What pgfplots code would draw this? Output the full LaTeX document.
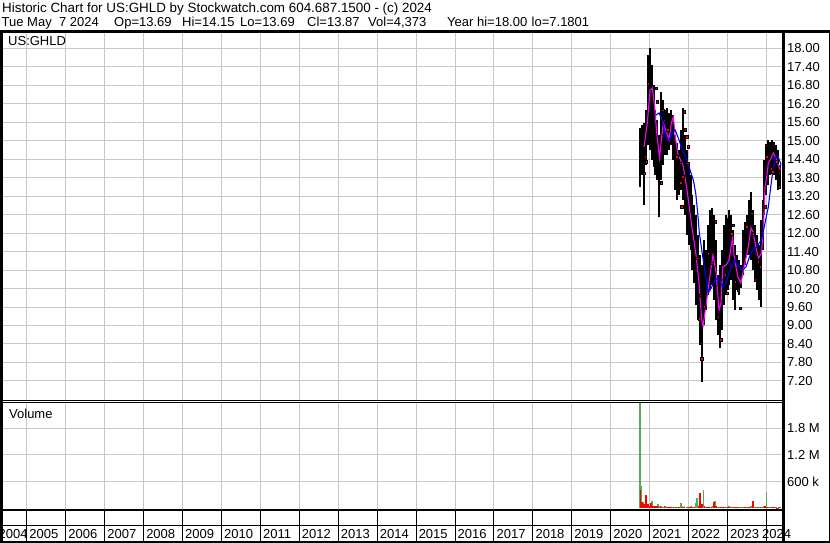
\documentclass[border=0pt]{standalone}
\usepackage{fontspec}
\setmainfont{Liberation Sans}
\usepackage{pgfplots}
\pgfplotsset{compat=1.18}
\usepackage{pgfplotstable}

\definecolor{gridgray}{HTML}{C8C8C8}
\definecolor{vgreen}{HTML}{4CAF50}
\definecolor{vred}{HTML}{FF0000}
\definecolor{mamag}{HTML}{FF00FF}
\definecolor{mablue}{HTML}{0000FF}

% daily range, sampled every 0.05 year
\pgfplotstableread{
t hi lo
2020.75 15.41 13.50
2020.80 15.51 13.89
2020.85 15.57 12.90
2020.90 16.00 14.21
2020.95 17.78 14.86
2021.00 18.00 14.70
2021.05 17.46 14.37
2021.10 16.81 14.15
2021.15 16.00 13.89
2021.20 15.67 13.72
2021.25 15.18 12.52
2021.30 16.58 13.72
2021.35 16.32 14.21
2021.40 16.00 14.54
2021.45 16.06 14.54
2021.50 15.90 14.70
2021.55 16.00 14.86
2021.60 15.83 14.37
2021.65 15.18 13.40
2021.70 14.93 13.07
2021.75 14.70 13.24
2021.80 15.35 13.40
2021.85 16.06 13.07
2021.90 15.18 12.59
2021.95 14.70 11.94
2022.00 14.21 11.61
2022.05 13.89 11.45
2022.10 13.24 10.80
2022.15 12.91 10.38
2022.20 12.59 9.67
2022.25 11.94 9.18
2022.30 11.29 8.37
2022.35 10.96 7.17
2022.40 11.78 9.02
2022.45 11.45 9.50
2022.50 12.26 9.99
2022.55 12.75 10.15
2022.60 12.81 10.32
2022.65 12.59 9.83
2022.70 11.78 9.18
2022.75 10.64 8.69
2022.80 10.96 8.27
2022.85 11.45 8.85
2022.90 12.26 9.67
2022.95 12.59 9.99
2023.00 12.49 10.15
2023.05 12.75 10.32
2023.10 12.59 10.48
2023.15 12.10 9.83
2023.20 11.61 9.50
2023.25 11.29 10.15
2023.30 11.13 9.99
2023.35 10.96 10.22
2023.40 12.10 10.64
2023.45 12.36 10.96
2023.50 12.59 11.29
2023.55 13.08 11.29
2023.60 13.33 11.13
2023.65 12.75 10.80
2023.70 12.26 10.48
2023.75 11.94 10.15
2023.80 11.61 9.83
2023.85 12.43 9.60
2023.90 13.08 11.45
2023.95 14.37 12.59
2024.00 14.86 13.24
2024.05 15.02 13.56
2024.10 14.96 13.89
2024.15 15.02 14.11
2024.20 14.96 13.89
2024.25 14.86 13.72
2024.30 14.70 13.40
2024.35 14.21 13.56
}\pricetab

\pgfplotstableread{
t p
2020.855 14.80
2020.940 15.57
2021.010 16.65
2021.069 16.71
2021.130 16.09
2021.182 15.25
2021.254 14.44
2021.300 15.02
2021.351 15.57
2021.413 15.35
2021.498 15.02
2021.557 15.57
2021.608 15.77
2021.670 15.02
2021.729 14.54
2021.857 14.21
2021.960 13.40
2022.088 12.17
2022.191 11.29
2022.268 10.38
2022.332 9.24
2022.371 8.98
2022.448 9.67
2022.550 10.64
2022.628 11.29
2022.705 10.74
2022.782 9.50
2022.833 9.73
2022.877 10.90
2022.962 10.96
2023.039 11.13
2023.134 11.87
2023.167 11.29
2023.262 10.58
2023.347 10.38
2023.424 10.90
2023.519 11.45
2023.604 12.17
2023.655 12.04
2023.732 11.52
2023.797 11.19
2023.874 11.35
2023.920 12.10
2023.964 13.50
2024.007 13.82
2024.048 14.28
2024.092 14.37
2024.177 14.60
2024.264 14.37
2024.349 14.05
}\mashort

\pgfplotstableread{
t p
2021.156 15.83
2021.241 15.90
2021.325 15.67
2021.413 15.12
2021.454 15.02
2021.523 15.09
2021.582 15.25
2021.652 15.35
2021.736 15.09
2021.824 14.76
2021.952 14.37
2022.037 14.05
2022.122 13.72
2022.183 13.30
2022.235 12.65
2022.276 12.00
2022.338 11.45
2022.404 10.90
2022.466 10.38
2022.507 10.05
2022.594 10.25
2022.679 10.48
2022.764 10.54
2022.877 10.25
2022.962 10.38
2023.090 10.90
2023.175 11.13
2023.262 10.96
2023.391 10.80
2023.475 10.90
2023.560 11.22
2023.648 11.45
2023.745 11.55
2023.874 11.78
2023.964 12.33
2024.048 12.85
2024.110 13.50
2024.177 14.15
2024.246 14.47
2024.305 14.47
2024.375 14.21
}\malong

\pgfplotstableread{
t p
2020.966 16.86
2021.164 16.71
2021.197 16.27
2021.336 15.99
2021.377 15.67
2020.881 14.48
2020.907 14.32
2020.863 13.95
2021.300 13.63
2021.464 15.35
2021.883 15.94
2021.908 15.35
2021.952 15.13
2021.849 13.83
2021.798 13.63
2021.695 14.48
2021.780 14.27
2021.978 14.27
2021.993 14.81
2021.824 12.86
2023.989 14.86
2024.007 14.48
2024.118 14.10
2024.161 13.99
2024.264 14.32
2024.331 13.51
2024.323 13.94
2023.964 12.86
2022.209 11.18
2022.294 9.99
2022.268 9.23
2022.320 8.42
2022.338 7.93
2022.397 9.61
2022.507 11.34
2022.594 11.02
2022.679 12.37
2022.764 9.28
2022.826 8.53
2022.936 10.64
2022.980 10.05
2023.108 11.99
2023.149 12.26
2023.193 10.42
2023.278 10.15
2023.321 9.56
2023.493 12.21
2023.622 12.64
2023.663 11.99
2023.707 10.48
2023.791 11.07
2023.835 10.91
}\closedots

\pgfplotstableread{
t v
2020.75 2380000
2020.78 490000
2020.83 150000
2020.88 60000
2020.93 90000
2021.00 40000
2021.06 160000
2021.10 30000
2021.16 35000
2021.21 83000
2021.26 40000
2021.30 55000
2021.36 25000
2021.41 45000
2021.46 30000
2021.52 35000
2021.58 20000
2021.65 25000
2021.72 30000
2021.80 106000
2021.84 45000
2021.90 60000
2021.95 30000
2022.00 25000
2022.06 40000
2022.12 30000
2022.18 106000
2022.22 240000
2022.38 420000
2022.44 30000
2022.50 35000
2022.56 20000
2022.62 40000
2022.68 168000
2022.74 30000
2022.80 25000
2022.86 20000
2022.92 35000
2022.98 30000
2023.04 45000
2023.10 30000
2023.16 25000
2023.22 20000
2023.28 30000
2023.34 25000
2023.42 35000
2023.48 20000
2023.55 30000
2023.60 50000
2023.70 25000
2023.76 30000
2023.82 20000
2023.88 30000
2023.93 45000
2024.00 360000
2024.05 30000
2024.12 20000
2024.18 25000
2024.24 20000
2024.30 15000
2024.35 20000
}\volup

\pgfplotstableread{
t v
2020.76 415000
2020.80 150000
2020.86 105000
2020.90 300000
2020.95 87000
2020.98 60000
2021.03 106000
2021.08 45000
2021.13 40000
2021.19 53000
2021.23 30000
2021.28 50000
2021.33 35000
2021.38 40000
2021.44 25000
2021.49 20000
2021.55 30000
2021.61 25000
2021.68 20000
2021.75 35000
2021.82 25000
2021.88 30000
2021.98 20000
2022.03 30000
2022.09 25000
2022.15 35000
2022.25 60000
2022.30 340000
2022.34 90000
2022.41 50000
2022.47 35000
2022.53 25000
2022.59 30000
2022.66 140000
2022.71 46000
2022.77 30000
2022.83 20000
2022.89 25000
2022.95 30000
2023.01 20000
2023.07 25000
2023.13 35000
2023.19 20000
2023.25 25000
2023.31 30000
2023.38 20000
2023.45 25000
2023.52 30000
2023.58 20000
2023.66 168000
2023.72 30000
2023.78 20000
2023.85 35000
2023.90 25000
2023.96 40000
2024.02 30000
2024.08 20000
2024.14 25000
2024.20 20000
2024.27 15000
2024.33 20000
}\voldown

\pgfplotsset{
  swpanel/.style={
    scale only axis, anchor=south west,
    xmin=2004.351, xmax=2024.387,
    axis line style={draw=none},
    major tick length=0pt,
    xtick={2005,2006,2007,2008,2009,2010,2011,2012,2013,2014,2015,2016,2017,2018,2019,2020,2021,2022,2023,2024},
    xticklabels={},
    xmajorgrids, ymajorgrids,
    grid style={draw=gridgray, line width=1bp},
    yticklabel pos=right,
    yticklabel style={anchor=west, xshift=5.5bp, inner sep=0pt},
    tick label style={font=\fontsize{13bp}{15bp}\selectfont},
    /pgf/number format/assume math mode=true,
  }
}

\begin{document}
\begin{tikzpicture}[font=\fontsize{13bp}{15bp}\selectfont]
\path[use as bounding box, fill=white] (0,0) rectangle (830bp,-543bp);

% price panel
\begin{axis}[swpanel, at={(1.5bp,-400bp)}, width=780bp, height=367.5bp,
  ymin=6.581, ymax=18.513,
  ytick={7.2,7.8,8.4,9.0,9.6,10.2,10.8,11.4,12.0,12.6,13.2,13.8,14.4,15.0,15.6,16.2,16.8,17.4,18.0},
  yticklabel style={/pgf/number format/.cd, fixed, fixed zerofill, precision=2}]
  \addplot[draw=none, mark=none, error bars/.cd, y dir=plus, y explicit,
    error mark=none, error bar style={draw=black, line width=2bp}]
    table[x=t, y=lo, y error expr=\thisrow{hi}-\thisrow{lo}] {\pricetab};
  \addplot[only marks, mark=square*, mark size=1.3bp, mark options={draw=none, fill=vred}] table[x=t, y=p] {\closedots};
  \addplot[mamag, line width=1.1bp] table[x=t, y=p] {\mashort};
  \addplot[mablue, line width=1.1bp] table[x=t, y=p] {\malong};
\end{axis}

% volume panel
\begin{axis}[swpanel, at={(1.5bp,-509.5bp)}, width=780bp, height=107bp,
  ymin=-30000, ymax=2381000, scaled y ticks=false,
  ytick={600000,1200000,1800000}, yticklabels={600 k,1.2 M,1.8 M}]
  \addplot[ycomb, vgreen, line width=1.6bp] table[x=t, y=v] {\volup};
  \addplot[ycomb, vred, line width=1.6bp] table[x=t, y=v] {\voldown};
\end{axis}

% year strip
\begin{axis}[swpanel, at={(1.5bp,-541.5bp)}, width=780bp, height=32bp,
  ymin=0, ymax=1, ytick={0.5}, yticklabels={}, clip=false,
  grid style={draw=black, line width=1bp}]
  \pgfplotsinvokeforeach{2005,2006,2007,2008,2009,2010,2011,2012,2013,2014,2015,2016,2017,2018,2019,2020,2021,2022,2023}
    {\node[anchor=base west, inner sep=0pt, xshift=2.5bp] at (axis cs:#1,0.1) {#1};}
  \node[anchor=base east, inner sep=0pt, xshift=1bp] at (axis cs:2005,0.1) {2004};
  \node[anchor=base west, inner sep=0pt, xshift=-4.5bp] at (axis cs:2024,0.1) {2024};
\end{axis}

% frame lines
\draw[line width=3bp] (0,-31bp) -- (830bp,-31bp);
\draw[line width=2.5bp] (1.25bp,-31bp) -- (1.25bp,-543bp);
\draw[line width=3bp] (783bp,-31bp) -- (783bp,-543bp);
\draw[line width=1.5bp] (829.25bp,-31bp) -- (829.25bp,-543bp);
\draw[line width=2bp] (0,-542bp) -- (830bp,-542bp);
\draw[line width=1bp] (0,-400.5bp) -- (783bp,-400.5bp);
\draw[line width=1bp] (0,-402.5bp) -- (783bp,-402.5bp);
\draw[line width=1.5bp] (0,-510bp) -- (783bp,-510bp);

% texts
\node[anchor=base west, inner sep=0pt, font=\fontsize{13.4bp}{15bp}\selectfont] at (2bp,-12.5bp)
  {Historic Chart for US:GHLD by Stockwatch.com 604.687.1500 - (c) 2024};
\node[anchor=base west, inner sep=0pt] at (1.5bp,-26bp) {Tue May\ \ 7 2024};
\node[anchor=base west, inner sep=0pt] at (114bp,-26bp) {Op=13.69};
\node[anchor=base west, inner sep=0pt] at (182bp,-26bp) {Hi=14.15};
\node[anchor=base west, inner sep=0pt] at (240bp,-26bp) {Lo=13.69};
\node[anchor=base west, inner sep=0pt] at (307bp,-26bp) {Cl=13.87};
\node[anchor=base west, inner sep=0pt] at (368bp,-26bp) {Vol=4,373};
\node[anchor=base west, inner sep=0pt] at (447bp,-26bp) {Year hi=18.00};
\node[anchor=base west, inner sep=0pt] at (531.5bp,-26bp) {lo=7.1801};
\node[anchor=base west, inner sep=0pt] at (8bp,-45.5bp) {US:GHLD};
\node[anchor=base west, inner sep=0pt] at (9bp,-418bp) {Volume};
\end{tikzpicture}
\end{document}
